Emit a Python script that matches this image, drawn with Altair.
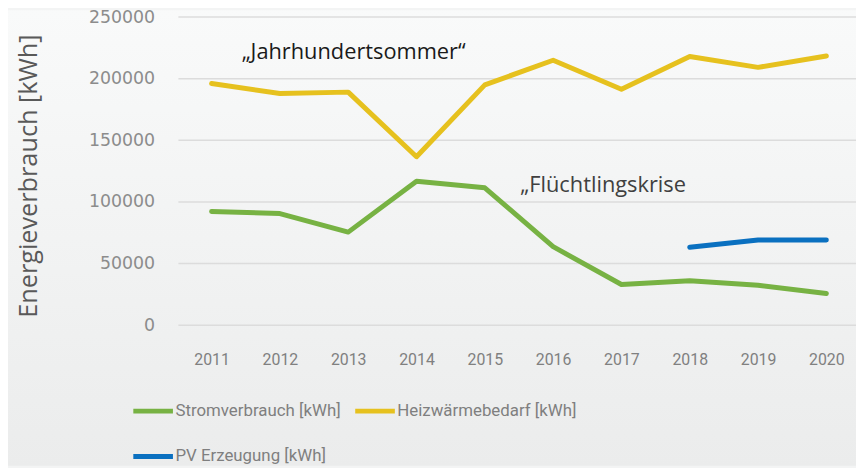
import altair as alt
import pandas as pd

years = [2011, 2012, 2013, 2014, 2015, 2016, 2017, 2018, 2019, 2020]
strom = [92200, 90600, 75500, 116800, 111500, 63700, 33000, 36000, 32400, 25700]
heiz = [196100, 188000, 189100, 136700, 195000, 215000, 191500, 218000, 209200, 218400]
pv = [None, None, None, None, None, None, None, 63200, 69100, 69100]

series_names = ["Stromverbrauch [kWh]", "Heizwärmebedarf [kWh]", "PV Erzeugung [kWh]"]
series_colors = ["#77b243", "#e6c11e", "#0a70c0"]
# legend entries are laid out column by column; this order gives rows Strom|Heiz, PV
legend_order = [0, 2, 1]

y_ticks = [0, 50000, 100000, 150000, 200000, 250000]

notes_text = ["„Jahrhundertsommer“", "„Flüchtlingskrise"]
notes_year = [2011.44, 2015.52]
notes_value = [216000, 108000]
notes_color = ["#1a1a1a", "#404040"]

rows = []
for name, vals in zip(series_names, [strom, heiz, pv]):
    for yr, v in zip(years, vals):
        if v is not None:
            rows.append({"Jahr": yr, "Wert": v, "Serie": name})
df = pd.DataFrame(rows)
notes = pd.DataFrame({"Jahr": notes_year, "Wert": notes_value, "Text": notes_text, "Farbe": notes_color})
grid = pd.DataFrame({"Wert": y_ticks})

W, H = 684, 311
x_scale = alt.Scale(domain=[2010.514, 2020.434], nice=False, zero=False)
y_scale = alt.Scale(domain=[0, 250000], nice=False)

y_axis = alt.Axis(values=y_ticks, format="d", title="Energieverbrauch [kWh]", grid=False,
                  domain=False, ticks=False, zindex=1,
                  labelPadding=24, labelFont="DejaVu Sans", labelFontSize=17.5,
                  labelColor="#8c8c8c", titleFont="Open Sans", titleFontSize=25.5,
                  titleFontWeight="normal", titleColor="#595959", titleX=-151, titleY=160,
                  titleBaseline="middle", titleAngle=270)

bg = alt.Chart(pd.DataFrame({"a": [0]})).mark_rect(
    fill=alt.Gradient(
        gradient="linear",
        stops=[alt.GradientStop(color="#f9fafa", offset=0), alt.GradientStop(color="#ebecec", offset=1)],
        x1=0, x2=0, y1=0, y2=1,
    ),
    clip=False,
).encode(x=alt.value(-172), x2=alt.value(W), y=alt.value(-7), y2=alt.value(453))

gridlines = alt.Chart(grid).mark_rule(color="#dcdcdc", strokeWidth=1.5).encode(
    y=alt.Y("Wert:Q", scale=y_scale, axis=y_axis),
    x=alt.value(0), x2=alt.value(W),
)

lines = alt.Chart(df).mark_line(strokeWidth=5, strokeCap="round", strokeJoin="round").encode(
    x=alt.X("Jahr:Q", scale=x_scale,
            axis=alt.Axis(values=years, format="d", title=None, grid=False, domain=False, ticks=False,
                          labelPadding=27, labelFont="Roboto", labelFontSize=16,
                          labelColor="#808080", zindex=1)),
    y=alt.Y("Wert:Q", scale=y_scale, axis=y_axis),
    color=alt.Color("Serie:N",
                    scale=alt.Scale(domain=[series_names[i] for i in legend_order],
                                    range=[series_colors[i] for i in legend_order]),
                    legend=alt.Legend(title=None, orient="none", legendX=-48, legendY=375, columns=2,
                                      symbolType="stroke", symbolStrokeWidth=5, symbolSize=1600,
                                      labelFont="Roboto", labelFontSize=17,
                                      labelColor="#7f7f7f", labelOffset=0, columnPadding=4,
                                      rowPadding=13, labelLimit=400)),
    detail="Serie:N",
)

text = alt.Chart(notes).mark_text(align="left", baseline="alphabetic", font="Open Sans", fontSize=22).encode(
    x=alt.X("Jahr:Q", scale=x_scale),
    y=alt.Y("Wert:Q", scale=y_scale),
    text="Text:N",
    color=alt.Color("Farbe:N", scale=None),
)

chart = alt.layer(bg, gridlines, lines, text).properties(
    width=W, height=H,
    autosize=alt.AutoSizeParams(type="none"),
    padding={"left": 172, "top": 7, "right": 0, "bottom": 142},
    background="#f3f4f4",
).configure_view(stroke=None)

chart.save("out.html", embed_options={"renderer": "svg", "actions": False})
